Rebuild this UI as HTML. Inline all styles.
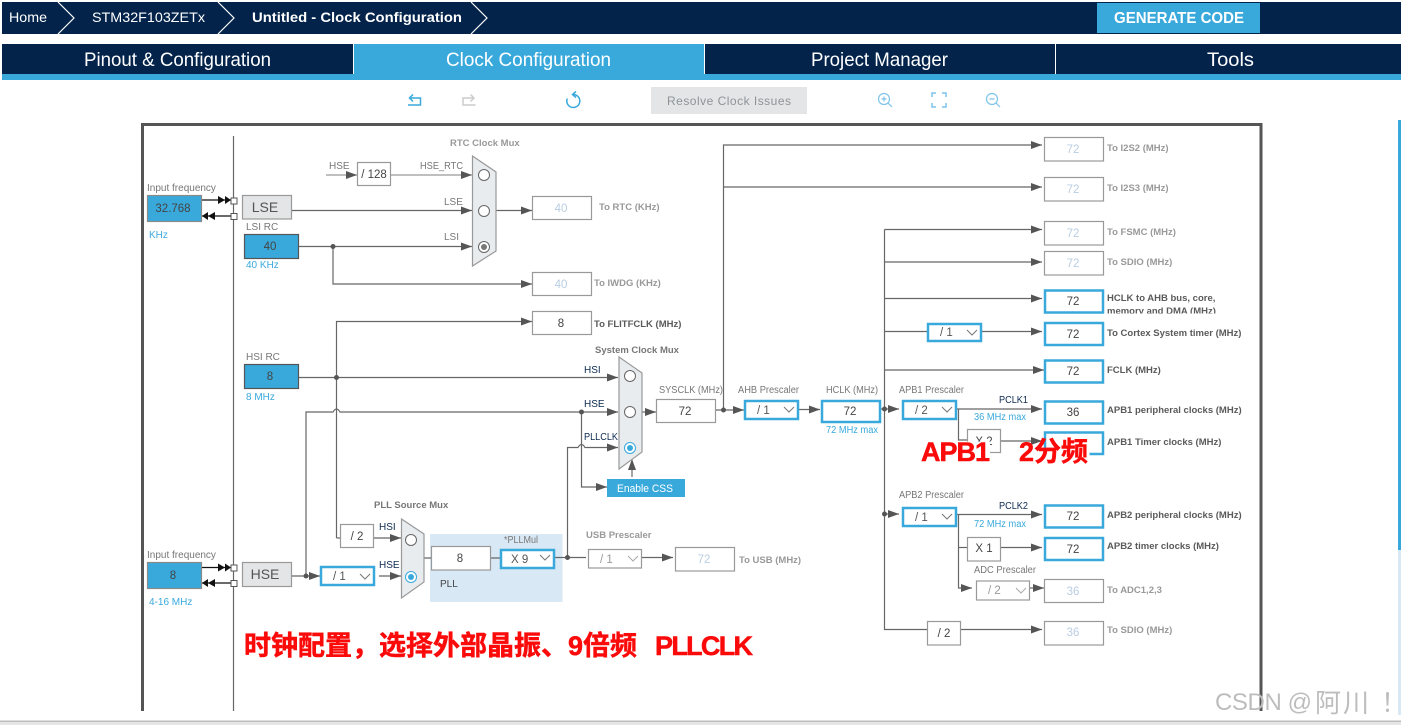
<!DOCTYPE html>
<html lang="zh">
<head>
<meta charset="utf-8">
<title>STM32 Clock Configuration</title>
<style>
html,body{margin:0;padding:0;background:#fff;width:1401px;height:725px;overflow:hidden}
svg{display:block;position:absolute;left:0;top:0}
text{font-family:"Liberation Sans","Noto Sans CJK SC",sans-serif}
.l{stroke:#666;stroke-width:1.2;fill:none}
.g{stroke:#999;stroke-width:1.2;fill:none}
.m{stroke:#999;stroke-width:1.2;fill:#e9ecef}
.bx{fill:#fff;stroke:#999;stroke-width:1.2}
.bl{fill:#fff;stroke:#39a9dc;stroke-width:2.5}
.src{fill:#39a9dc;stroke:#555;stroke-width:1.2}
.srcg{fill:#39a9dc;stroke:#8a8a8a;stroke-width:1.2}
.t{font-size:10px;fill:#777}
.nv{font-size:10px;fill:#0c2a50}
.b{font-size:9.5px;font-weight:700;fill:#999}
.bd{font-size:9.5px;font-weight:700;fill:#5a5a5a}
.h{font-size:9.5px;font-weight:700;fill:#777}
.u{font-size:10px;fill:#39a9dc}
.v{font-size:11.5px;fill:#444;text-anchor:middle}
.vd{font-size:11.5px;fill:#b9cde2;text-anchor:middle}
.d{font-size:11.5px;fill:#555}
.dd{font-size:11.5px;fill:#999}
.c{stroke:#777;stroke-width:1;fill:none}
.cd{stroke:#aaa;stroke-width:1;fill:none}
.r{fill:#fff;stroke:#666;stroke-width:1}
.dot{fill:#555}
.red{fill:#fb0a0a;font-weight:700;stroke:#fb0a0a;stroke-width:.5}
.wm{fill:#bdbdbd}
</style>
</head>
<body>
<svg width="1401" height="725" viewBox="0 0 1401 725" xmlns="http://www.w3.org/2000/svg">
<defs>
<marker id="a" markerUnits="userSpaceOnUse" markerWidth="12" markerHeight="10" refX="11" refY="4.500" orient="auto"><path d="M0 0.500L11 4.500L0 8.500z" fill="#555"/></marker>
<clipPath id="clipH"><rect x="1105" y="288" width="140" height="25.500"/></clipPath>
</defs>

<!-- top bar -->
<rect x="2" y="2" width="1399" height="32" fill="#03234b"/>
<g fill="none" stroke="#fff" stroke-width="1.200">
<path d="M58 2L74 18L58 34"/><path d="M218 2L234 18L218 34"/><path d="M471 2L487 18L471 34"/>
</g>
<text x="9" y="22" font-size="14" fill="#fff" textLength="38" lengthAdjust="spacingAndGlyphs">Home</text>
<text x="92" y="22" font-size="14" fill="#fff" textLength="113" lengthAdjust="spacingAndGlyphs">STM32F103ZETx</text>
<text x="252" y="22" font-size="14" font-weight="700" fill="#fff" textLength="210" lengthAdjust="spacingAndGlyphs">Untitled - Clock Configuration</text>
<rect x="1097" y="3" width="163" height="30" fill="#39a9dc"/>
<text x="1114" y="23" font-size="16" font-weight="700" fill="#fff" textLength="130" lengthAdjust="spacingAndGlyphs">GENERATE CODE</text>

<!-- tabs -->
<rect x="2" y="44" width="1399" height="36" fill="#39a9dc"/>
<rect x="2" y="44" width="351" height="30" fill="#03234b"/>
<rect x="705" y="44" width="350" height="30" fill="#03234b"/>
<rect x="1056" y="44" width="345" height="30" fill="#03234b"/>
<path d="M353.500 44V74M704.500 44V74M1055.500 44V74" stroke="#fff" stroke-width="1"/>
<text x="84" y="66" font-size="19.500" fill="#fff" textLength="187" lengthAdjust="spacingAndGlyphs">Pinout &amp; Configuration</text>
<text x="446" y="66" font-size="19.500" fill="#fff" textLength="165" lengthAdjust="spacingAndGlyphs">Clock Configuration</text>
<text x="811" y="66" font-size="19.500" fill="#fff" textLength="137" lengthAdjust="spacingAndGlyphs">Project Manager</text>
<text x="1207" y="66" font-size="19.500" fill="#fff" textLength="47" lengthAdjust="spacingAndGlyphs">Tools</text>

<!-- toolbar -->
<g fill="none" stroke="#39a9dc" stroke-width="1.500">
<path d="M409.500 98H420.500V105H408"/><path d="M413 94.500L409.500 98L413 101.500"/>
<path d="M573 94.500A6.500 6.500 0 1 1 567.300 98.500"/><path d="M576 91.500L572.500 94.500L576 97.500"/>
</g>
<g fill="none" stroke="#7cc4ea" stroke-width="1.200">
<circle cx="884" cy="99" r="5.500"/><path d="M888 103L892 107M881.500 99H886.500M884 96.500V101.500"/>
<path d="M932 97V93H936M942 93H946V97M946 103V107H942M936 107H932V103" stroke-width="1.500"/>
<circle cx="992" cy="99" r="5.500"/><path d="M996 103L1000 107M989.500 99H994.500"/>
</g>
<path d="M474 98H463V105H475.500M470.500 94.500L474 98L470.500 101.500" fill="none" stroke="#ccc" stroke-width="1.500"/>
<rect x="651" y="87" width="156" height="27" fill="#e3e5e7"/>
<text x="667" y="105" font-size="12" fill="#8e9398" textLength="124">Resolve Clock Issues</text>

<!-- frame -->
<path d="M142.500 711V124.500H1261V711" fill="none" stroke="#555" stroke-width="3"/>
<path d="M233.500 136V711" stroke="#666" stroke-width="1.200"/>

<!-- PLL panel -->
<rect x="430" y="534" width="132.500" height="68" fill="#d9e8f5"/>

<!-- connectors -->
<g class="l">
<path d="M292 210.500H472" marker-end="url(#a)"/>
<path d="M299 246.500H472" marker-end="url(#a)"/>
<path d="M333 246.500V284H532" marker-end="url(#a)"/>
<path d="M496 210.500H532" marker-end="url(#a)"/>
<path d="M336.500 538V321.500H532" marker-end="url(#a)"/>
<path d="M336.500 538H340"/>
<path d="M299 377.500H618" marker-end="url(#a)"/>
<path d="M292 576H320" marker-end="url(#a)"/>
<path d="M306 576V412H333q3.500 -6 7 0H618" marker-end="url(#a)"/>
<path d="M581.500 412V487H607" marker-end="url(#a)"/>
<path d="M567.500 557V447.500H578q3.500 -6 7 0H618" marker-end="url(#a)"/>
<path d="M642 412H656" marker-end="url(#a)"/>
<path d="M632 477V459" marker-end="url(#a)"/>
<path d="M374 538H401" marker-end="url(#a)"/>
<path d="M379 576H401" marker-end="url(#a)"/>
<path d="M424 558H431M491 558H500M555 557.500H586"/>
<path d="M716 410H744" marker-end="url(#a)"/>
<path d="M723.500 410V145H1042" marker-end="url(#a)"/>
<path d="M723.500 187H1042" marker-end="url(#a)"/>
<path d="M799 409.500H820" marker-end="url(#a)"/>
<path d="M880 409H899" marker-end="url(#a)"/>
<path d="M884.500 229.500H1042" marker-end="url(#a)"/>
<path d="M884.500 229.500V629.500H927"/>
<path d="M884.500 262H1042" marker-end="url(#a)"/>
<path d="M884.500 298.500H1042" marker-end="url(#a)"/>
<path d="M884.500 331.500H927M981 331.500H1042" marker-end="url(#a)"/>
<path d="M884.500 370H1044" marker-end="url(#a)"/>
<path d="M884.500 514H899" marker-end="url(#a)"/>
<path d="M961 629.500H1042" marker-end="url(#a)"/>
<path d="M957 409H1042" marker-end="url(#a)"/>
<path d="M958.500 409V440H967"/>
<path d="M1001 441H1042" marker-end="url(#a)"/>
<path d="M957 514.500H1042" marker-end="url(#a)"/>
<path d="M958.500 514.500V588H972" marker-end="url(#a)"/>
<path d="M958.500 547.500H967"/>
<path d="M1001 547.500H1042" marker-end="url(#a)"/>
<path d="M1030 588H1044" marker-end="url(#a)"/>
<path d="M642 557.500H673" marker-end="url(#a)"/>
</g>
<g class="g">
<path d="M326 175H357" marker-end="url(#a)"/>
<path d="M391 175H472" marker-end="url(#a)"/>
</g>
<g class="dot">
<circle cx="333" cy="246.500" r="2.500"/><circle cx="336.500" cy="377.500" r="2.500"/>
<circle cx="306" cy="576" r="2.500"/><circle cx="581.500" cy="412" r="2.500"/>
<circle cx="567.500" cy="557.500" r="2.500"/><circle cx="723.500" cy="410" r="2.500"/>
<circle cx="884.500" cy="409" r="2.500"/><circle cx="884.500" cy="514" r="2.500"/>
</g>

<!-- input arrows LSE / HSE -->
<g stroke="#111" stroke-width="1.200"><path d="M202 200H231M202 216H231M202 567.500H231M202 583H231"/></g>
<g fill="#111">
<path d="M218 196L225 200L218 204zM225 196L231 200L225 204z"/>
<path d="M208 212L202 216L208 220zM215 212L208 216L215 220z"/>
<path d="M218 563.500L225 567.500L218 571.500zM225 563.500L231 567.500L225 571.500z"/>
<path d="M208 579L202 583L208 587zM215 579L208 583L215 587z"/>
</g>
<g fill="#fff" stroke="#555" stroke-width="1">
<rect x="231" y="198" width="6" height="6"/><rect x="231" y="213.500" width="6" height="6"/>
<rect x="231" y="565" width="6" height="6"/><rect x="231" y="580.500" width="6" height="6"/>
</g>

<!-- source boxes -->
<text x="147" y="191" class="t">Input frequency</text>
<rect x="147.500" y="195.500" width="54" height="26" class="srcg"/>
<text x="173" y="212" class="v">32.768</text>
<text x="149" y="238" class="u">KHz</text>
<rect x="242.500" y="195.500" width="49" height="23.500" fill="#e3e5e7" stroke="#999" stroke-width="1.200"/>
<text x="265" y="212" font-size="14" fill="#555" text-anchor="middle">LSE</text>
<text x="246" y="230" class="t">LSI RC</text>
<rect x="244.500" y="234.500" width="54" height="24" class="src"/>
<text x="270" y="250" class="v">40</text>
<text x="246" y="268" class="u">40 KHz</text>
<text x="246" y="360" class="t">HSI RC</text>
<rect x="244.500" y="364.500" width="54" height="24" class="src"/>
<text x="270" y="380" class="v">8</text>
<text x="246" y="400" class="u">8 MHz</text>
<text x="147" y="558" class="t">Input frequency</text>
<rect x="147.500" y="562.500" width="54" height="26" class="srcg"/>
<text x="173" y="579" class="v">8</text>
<text x="149" y="605" class="u">4-16 MHz</text>
<rect x="242.500" y="562.500" width="49" height="24" fill="#e3e5e7" stroke="#999" stroke-width="1.200"/>
<text x="265" y="579" font-size="14" fill="#555" text-anchor="middle">HSE</text>

<!-- RTC -->
<text x="329" y="169" class="t">HSE</text>
<rect x="357.500" y="162.500" width="33" height="23" class="bx"/>
<text x="374" y="178" class="v">/ 128</text>
<text x="420" y="169" class="t" textLength="43" lengthAdjust="spacingAndGlyphs">HSE_RTC</text>
<text x="444" y="205" class="t">LSE</text>
<text x="444" y="240" class="t">LSI</text>
<text x="450" y="146" class="b">RTC Clock Mux</text>
<path d="M472.500 156L496 172V251L472.500 266z" class="m"/>
<circle cx="484" cy="175" r="5.500" class="r"/><circle cx="484" cy="211" r="5.500" class="r"/>
<circle cx="484" cy="247" r="5.500" class="r"/><circle cx="484" cy="247" r="3" fill="#777"/>
<rect x="532.500" y="196.500" width="59" height="23" class="bx"/><text x="561" y="212" class="vd">40</text>
<text x="599" y="210" class="b">To RTC (KHz)</text>
<rect x="532.500" y="272.500" width="59" height="23" class="bx"/><text x="561" y="288" class="vd">40</text>
<text x="594" y="286" class="b">To IWDG (KHz)</text>
<rect x="532.500" y="311.500" width="59" height="23" class="bx"/><text x="561" y="327" class="v">8</text>
<text x="594" y="327" class="bd">To FLITFCLK (MHz)</text>

<!-- PLL -->
<text x="374" y="508" class="h">PLL Source Mux</text>
<rect x="340.500" y="524.500" width="33" height="23" class="bx"/><text x="357" y="540" class="v">/ 2</text>
<text x="379" y="530" class="nv">HSI</text>
<text x="379" y="568" class="nv">HSE</text>
<rect x="321" y="567" width="53" height="18" class="bl"/>
<text x="333" y="580" class="d">/ 1</text>
<path d="M360 574L365 579L370 574" class="c"/>
<path d="M401.500 519L424 534V582L401.500 598z" class="m"/>
<circle cx="411" cy="540" r="5.500" class="r"/>
<circle cx="411" cy="577" r="5.500" fill="#fff" stroke="#39a9dc"/><circle cx="411" cy="577" r="3" fill="#39a9dc"/>
<rect x="431.500" y="546.500" width="59" height="23.500" class="bx"/><text x="460" y="562" class="v">8</text>
<text x="504" y="543" class="t" textLength="34" lengthAdjust="spacingAndGlyphs">*PLLMul</text>
<rect x="501" y="550" width="53" height="18" class="bl"/>
<text x="511" y="563" class="d">X 9</text>
<path d="M540 555L545 560L550 555" class="c"/>
<text x="440" y="587" class="t" style="fill:#444">PLL</text>

<!-- system mux -->
<text x="595" y="353" class="h">System Clock Mux</text>
<text x="584" y="373" class="nv">HSI</text>
<text x="584" y="407" class="nv">HSE</text>
<text x="584" y="440" class="nv" textLength="34" lengthAdjust="spacingAndGlyphs">PLLCLK</text>
<path d="M619 357L642 373V452L619 469z" class="m"/>
<circle cx="630" cy="376" r="5.500" class="r"/><circle cx="630" cy="412" r="5.500" class="r"/>
<circle cx="630" cy="448" r="5.500" fill="#fff" stroke="#39a9dc"/><circle cx="630" cy="448" r="3" fill="#39a9dc"/>
<rect x="607" y="479" width="78" height="18" fill="#39a9dc"/>
<text x="617" y="492" font-size="11" fill="#fff" textLength="56" lengthAdjust="spacingAndGlyphs">Enable CSS</text>

<!-- USB -->
<text x="586" y="538" class="b">USB Prescaler</text>
<rect x="588.500" y="549.500" width="53" height="18.500" class="bx"/>
<text x="600" y="563" class="dd">/ 1</text>
<path d="M628 556L633 561L638 556" class="cd"/>
<rect x="675.500" y="547.500" width="59" height="23.500" class="bx"/><text x="704" y="563" class="vd">72</text>
<text x="739" y="563" class="b">To USB (MHz)</text>

<!-- SYSCLK / AHB / HCLK -->
<text x="659" y="393" class="t" textLength="64" lengthAdjust="spacingAndGlyphs">SYSCLK (MHz)</text>
<rect x="656.500" y="399.500" width="59" height="23" class="bx"/><text x="685" y="415" class="v">72</text>
<text x="738" y="393" class="t" textLength="61" lengthAdjust="spacingAndGlyphs">AHB Prescaler</text>
<rect x="745" y="401" width="53" height="18" class="bl"/>
<text x="757" y="414" class="d">/ 1</text>
<path d="M784 407L789 412L794 407" class="c"/>
<text x="826" y="393" class="t" textLength="52" lengthAdjust="spacingAndGlyphs">HCLK (MHz)</text>
<rect x="822" y="401" width="58" height="21" class="bl"/><text x="850" y="415" class="v">72</text>
<text x="826" y="433" class="u" textLength="52" lengthAdjust="spacingAndGlyphs">72 MHz max</text>

<!-- APB1 -->
<text x="899" y="393" class="t" textLength="65" lengthAdjust="spacingAndGlyphs">APB1 Prescaler</text>
<rect x="903" y="401" width="53" height="18" class="bl"/>
<text x="915" y="414" class="d">/ 2</text>
<path d="M942 407L947 412L952 407" class="c"/>
<text x="999" y="403" class="nv" textLength="29" lengthAdjust="spacingAndGlyphs">PCLK1</text>
<text x="974" y="420" class="u" textLength="52" lengthAdjust="spacingAndGlyphs">36 MHz max</text>
<rect x="967.500" y="429.500" width="33" height="23" class="bx"/>
<text x="984" y="445" class="v">X 2</text>

<!-- Cortex prescaler -->
<rect x="928" y="324" width="53" height="17" class="bl"/>
<text x="940" y="336" class="d">/ 1</text>
<path d="M967 330L972 335L977 330" class="c"/>

<!-- APB2 -->
<text x="899" y="498" class="t" textLength="65" lengthAdjust="spacingAndGlyphs">APB2 Prescaler</text>
<rect x="903" y="508" width="53" height="18" class="bl"/>
<text x="915" y="521" class="d">/ 1</text>
<path d="M942 514L947 519L952 514" class="c"/>
<text x="999" y="509" class="nv" textLength="29" lengthAdjust="spacingAndGlyphs">PCLK2</text>
<text x="974" y="527" class="u" textLength="52" lengthAdjust="spacingAndGlyphs">72 MHz max</text>
<rect x="967.500" y="537.500" width="33" height="23.500" class="bx"/>
<text x="984" y="552" class="v">X 1</text>
<text x="974" y="573" class="t" textLength="62" lengthAdjust="spacingAndGlyphs">ADC Prescaler</text>
<rect x="976.500" y="581" width="53" height="19" class="bx"/>
<text x="988" y="594" class="dd">/ 2</text>
<path d="M1016 588L1021 593L1026 588" class="cd"/>
<rect x="927.500" y="621.500" width="33" height="23.500" class="bx"/>
<text x="944" y="637" class="v">/ 2</text>

<!-- right boxes -->
<rect x="1044.500" y="137.500" width="59" height="23.500" class="bx"/><text x="1073" y="153" class="vd">72</text>
<rect x="1044.500" y="177.500" width="59" height="23.500" class="bx"/><text x="1073" y="193" class="vd">72</text>
<rect x="1044.500" y="221.500" width="59" height="23.500" class="bx"/><text x="1073" y="237" class="vd">72</text>
<rect x="1044.500" y="251.500" width="59" height="23.500" class="bx"/><text x="1073" y="267" class="vd">72</text>
<rect x="1045" y="290.500" width="58" height="22" class="bl"/><text x="1073" y="305" class="v">72</text>
<rect x="1045" y="323" width="58" height="22" class="bl"/><text x="1073" y="338" class="v">72</text>
<rect x="1045" y="360.500" width="58" height="22" class="bl"/><text x="1073" y="375" class="v">72</text>
<rect x="1045" y="401.500" width="58" height="22" class="bl"/><text x="1073" y="416" class="v">36</text>
<rect x="1045" y="432.500" width="58" height="21.500" class="bl"/><text x="1073" y="447" class="v">72</text>
<rect x="1045" y="505.500" width="58" height="22" class="bl"/><text x="1073" y="520" class="v">72</text>
<rect x="1045" y="538" width="58" height="22" class="bl"/><text x="1073" y="553" class="v">72</text>
<rect x="1044.500" y="579.500" width="59" height="23" class="bx"/><text x="1073" y="595" class="vd">36</text>
<rect x="1044.500" y="621.500" width="59" height="23.500" class="bx"/><text x="1073" y="636" class="vd">36</text>

<text x="1107" y="151" class="b">To I2S2 (MHz)</text>
<text x="1107" y="191" class="b">To I2S3 (MHz)</text>
<text x="1107" y="235" class="b">To FSMC (MHz)</text>
<text x="1107" y="265" class="b">To SDIO (MHz)</text>
<g clip-path="url(#clipH)">
<text x="1107" y="301" class="bd">HCLK to AHB bus, core,</text>
<text x="1107" y="314" class="bd">memory and DMA (MHz)</text>
</g>
<text x="1107" y="336" class="bd">To Cortex System timer (MHz)</text>
<text x="1107" y="373" class="bd">FCLK (MHz)</text>
<text x="1107" y="413" class="bd">APB1 peripheral clocks (MHz)</text>
<text x="1107" y="445" class="bd">APB1 Timer clocks (MHz)</text>
<text x="1107" y="518" class="bd">APB2 peripheral clocks (MHz)</text>
<text x="1107" y="549" class="bd">APB2 timer clocks (MHz)</text>
<text x="1107" y="593" class="b">To ADC1,2,3</text>
<text x="1107" y="633" class="b">To SDIO (MHz)</text>

<!-- red annotations, with the white halo that hides what sits under them -->
<rect x="963" y="441.500" width="27" height="15" fill="#fff"/>
<rect x="1046.500" y="434.500" width="43" height="22" fill="#fff"/>
<text x="921" y="461" font-size="27" class="red" textLength="69">APB1</text>
<text x="1019" y="461" font-size="27" class="red">2分频</text>
<text x="244" y="655" font-size="27" class="red">时钟配置，选择外部晶振、9倍频</text>
<text x="655" y="655" font-size="27" class="red" textLength="98">PLLCLK</text>

<!-- watermark -->
<text x="1215" y="710" font-size="24" class="wm" textLength="97">CSDN @</text>
<text x="1315" y="712" font-size="26" class="wm" textLength="54">阿川</text>
<text x="1381" y="712" font-size="26" class="wm">！</text>

<!-- scrollbar and bottom bar -->
<rect x="1398" y="120" width="3" height="430" fill="#39a9dc"/>
<rect x="1398" y="550" width="3" height="165" fill="#d8e8f5"/>
<rect x="0" y="721" width="1401" height="4" fill="#e6e6e6"/>
<rect x="0" y="720.500" width="1401" height="1.500" fill="#bdbdbd"/>
</svg>
</body>
</html>
